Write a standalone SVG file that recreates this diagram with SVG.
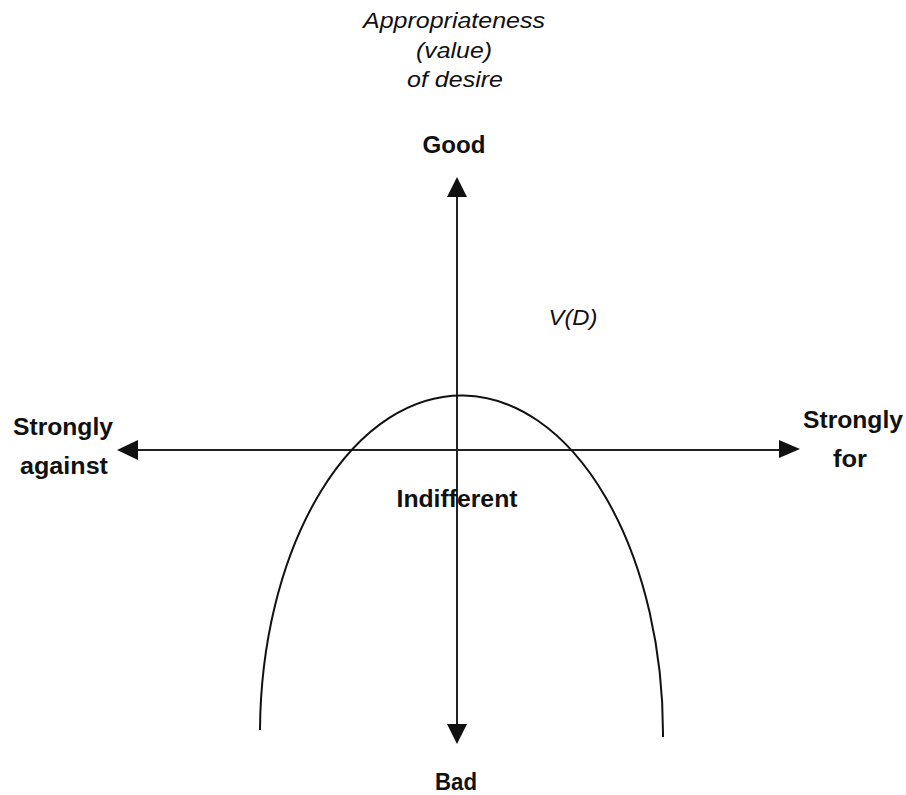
<svg xmlns="http://www.w3.org/2000/svg" width="906" height="795" viewBox="0 0 906 795">
  <style>
    .lbl { font-family: "Liberation Sans", Arial, sans-serif; font-weight: bold; font-size: 23px; fill: #111; text-anchor: middle; }
    .ital { font-family: "Liberation Sans", Arial, sans-serif; font-style: italic; font-size: 22px; fill: #111; text-anchor: middle; }
    .axis { stroke: #222; stroke-width: 2; fill: none; }
    .curve { stroke: #111; stroke-width: 2; fill: none; }
    .head { fill: #111; }
  </style>
  <rect width="906" height="795" fill="#fff"/>

  <!-- axes and the value curve -->
  <g id="connectors">
    <line class="axis" x1="457" y1="195" x2="457" y2="727"/>
    <line class="axis" x1="136" y1="450" x2="782" y2="450"/>
    <polygon class="head" points="457,177 447,197 467,197"/>
    <polygon class="head" points="457,744 447,724 467,724"/>
    <polygon class="head" points="117,450 138,440 138,460"/>
    <polygon class="head" points="800,449 779,440 779,458"/>
    <path class="curve" d="M 260 730 A 201.5 338 0 0 1 663 737"/>
  </g>

  <g id="title">
    <text class="ital" x="454" y="28" textLength="182" lengthAdjust="spacingAndGlyphs">Appropriateness</text>
    <text class="ital" x="454" y="58" textLength="76" lengthAdjust="spacingAndGlyphs">(value)</text>
    <text class="ital" x="455" y="87" textLength="96" lengthAdjust="spacingAndGlyphs">of desire</text>
  </g>

  <g id="good"><text class="lbl" x="454" y="153" textLength="63" lengthAdjust="spacingAndGlyphs">Good</text></g>
  <g id="bad"><text class="lbl" x="456" y="790" textLength="42" lengthAdjust="spacingAndGlyphs">Bad</text></g>
  <g id="against">
    <text class="lbl" x="63" y="435" textLength="100" lengthAdjust="spacingAndGlyphs">Strongly</text>
    <text class="lbl" x="64" y="474" textLength="88" lengthAdjust="spacingAndGlyphs">against</text>
  </g>
  <g id="for">
    <text class="lbl" x="853" y="428" textLength="100" lengthAdjust="spacingAndGlyphs">Strongly</text>
    <text class="lbl" x="850" y="467" textLength="34" lengthAdjust="spacingAndGlyphs">for</text>
  </g>
  <g id="indifferent"><text class="lbl" x="457" y="507" textLength="121" lengthAdjust="spacingAndGlyphs">Indifferent</text></g>
  <g id="vd"><text class="ital" x="573" y="325" textLength="49" lengthAdjust="spacingAndGlyphs">V(D)</text></g>
</svg>
